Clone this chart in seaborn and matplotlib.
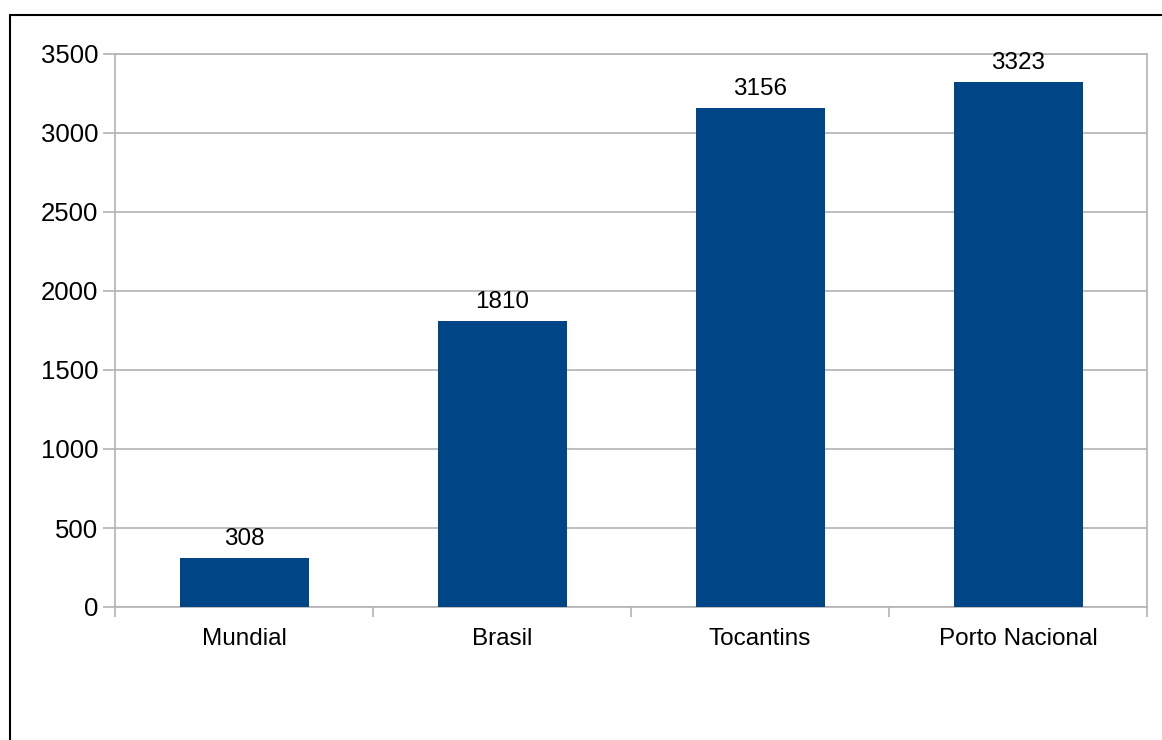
import matplotlib
matplotlib.use("Agg")
import matplotlib.pyplot as plt
import seaborn as sns
import pandas as pd
from matplotlib.lines import Line2D

categories = ["Mundial", "Brasil", "Tocantins", "Porto Nacional"]
values = [308, 1810, 3156, 3323]
yticks = [0, 500, 1000, 1500, 2000, 2500, 3000, 3500]

sns.set_style("white")
plt.rcParams["font.family"] = ["Liberation Sans", "DejaVu Sans"]

df = pd.DataFrame({"cat": categories, "val": values})

fig = plt.figure(figsize=(11.62, 7.40), dpi=100)
W, H = 1162, 740
ax = fig.add_axes([115 / W, 1 - 607 / H, (1147 - 115) / W, (607 - 54) / H])

sns.barplot(data=df, x="cat", y="val", color="#004586", saturation=1, width=0.5,
            linewidth=0, ax=ax, zorder=3)

ax.set_xlim(-0.5, 3.5)
ax.set_ylim(0, 3500)
ax.set_yticks(yticks)
ax.set_yticklabels([str(t) for t in yticks])
ax.set_xlabel("")
ax.set_ylabel("")
grid_c = "#b3b3b3"
ax.yaxis.grid(True, color=grid_c, linewidth=1.2, zorder=0)
ax.set_axisbelow(True)
for s in ax.spines.values():
    s.set_visible(True)
    s.set_color(grid_c)
    s.set_linewidth(1.2)

fs = 17.5
ax.tick_params(axis="y", which="major", length=8.6, width=1.2, color=grid_c, labelsize=18.5, labelcolor="black", pad=3.5, left=True)
ax.tick_params(axis="x", which="major", length=0, labelsize=fs, labelcolor="black", pad=15)
ax.set_xticks([-0.5, 0.5, 1.5, 2.5, 3.5], minor=True)
ax.tick_params(axis="x", which="minor", length=7.5, width=1.2, color=grid_c, bottom=True)

for i, v in enumerate(values):
    ax.annotate(str(v), (i, v), xytext=(0, 6), textcoords="offset points",
                ha="center", va="bottom", fontsize=fs, color="black")

# outer frame (partially visible)
fig.add_artist(Line2D([10 / W, 10 / W], [0, 1 - 15 / H], color="black", linewidth=1.5, transform=fig.transFigure))
fig.add_artist(Line2D([10 / W, 1], [1 - 15 / H, 1 - 15 / H], color="black", linewidth=1.5, transform=fig.transFigure))

fig.savefig("out.png", dpi=100)
